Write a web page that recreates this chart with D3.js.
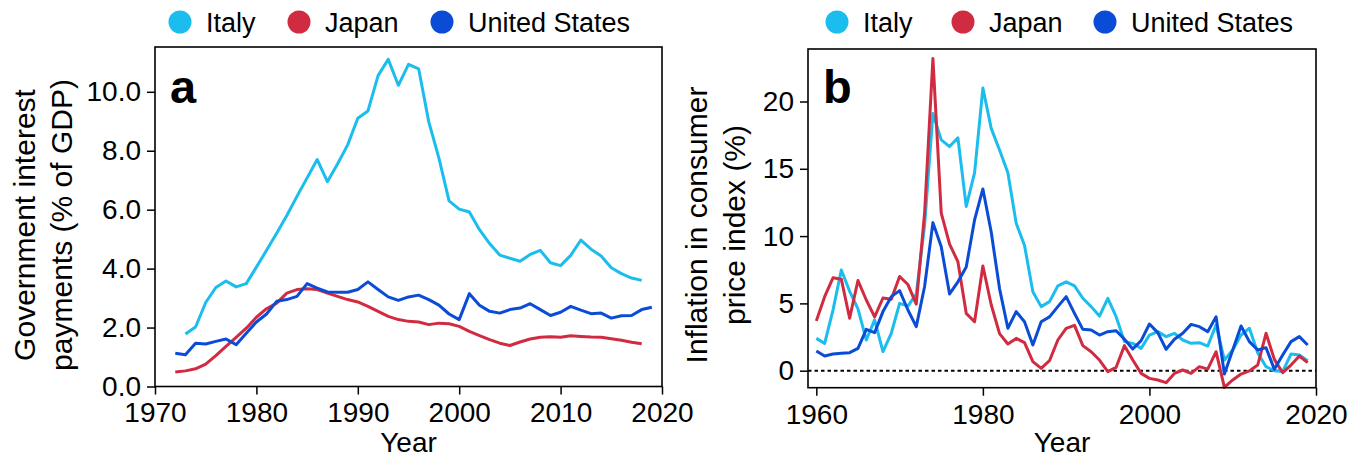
<!DOCTYPE html>
<html>
<head>
<meta charset="utf-8">
<script src="https://cdn.jsdelivr.net/npm/d3@7"></script>
<style>
body { margin: 0; background: #fff; }
text { font-family: "Liberation Sans", Arial, Helvetica, sans-serif; fill: #000; }
</style>
</head>
<body>
<svg width="1350" height="460"></svg>
<script>
// series names + colours
var countries = ["Italy", "Japan", "United States"];
var colors = ["#1bbdee", "#d02b40", "#0b4cd6"];

// panel a : government interest payments (% of GDP)
var debtStartItaly = 1973, debtStartJapan = 1972, debtStartUS = 1972;
var debtItaly = [1.78, 2.02, 2.85, 3.36, 3.58, 3.38, 3.49, 4.05, 4.62, 5.2, 5.8, 6.45, 7.08, 7.7, 6.95,
  7.55, 8.2, 9.1, 9.35, 10.55, 11.1, 10.22, 10.93, 10.78, 8.98, 7.75, 6.3, 6.02, 5.92, 5.32, 4.85,
  4.46, 4.35, 4.25, 4.48, 4.62, 4.2, 4.1, 4.45, 4.97, 4.66, 4.43, 4.03, 3.83, 3.68, 3.6];
var debtJapan = [0.49, 0.53, 0.6, 0.76, 1.05, 1.36, 1.67, 1.98, 2.35, 2.64, 2.83, 3.17, 3.29, 3.32, 3.29,
  3.17, 3.06, 2.95, 2.87, 2.72, 2.55, 2.38, 2.27, 2.21, 2.19, 2.1, 2.15, 2.13, 2.04, 1.87, 1.73,
  1.59, 1.47, 1.39, 1.51, 1.61, 1.67, 1.69, 1.67, 1.72, 1.7, 1.68, 1.67, 1.62, 1.57, 1.5, 1.45];
var debtUS = [1.13, 1.08, 1.47, 1.44, 1.53, 1.61, 1.42, 1.81, 2.19, 2.46, 2.89, 2.95, 3.06, 3.49, 3.34,
  3.21, 3.2, 3.2, 3.29, 3.55, 3.29, 3.04, 2.92, 3.04, 3.1, 2.95, 2.76, 2.46, 2.27, 3.15, 2.76,
  2.55, 2.49, 2.61, 2.66, 2.81, 2.61, 2.41, 2.52, 2.72, 2.59, 2.47, 2.49, 2.32, 2.4, 2.41, 2.61, 2.69];
var debtXTicks = [1970, 1980, 1990, 2000, 2010, 2020];
var debtYTicks = [0, 2, 4, 6, 8, 10];

// panel b : CPI inflation (%), 1960-2019
var cpiStart = 1960;
var cpiItaly = [2.4, 2.03, 4.5, 7.48, 5.9, 4.6, 2.28, 3.77, 1.41, 2.78, 5.0, 4.8, 5.7, 10.8, 19.1,
  17.15, 16.65, 17.3, 12.2, 14.7, 21.0, 18.0, 16.4, 14.7, 10.95, 9.3, 5.87, 4.76, 5.13, 6.3,
  6.6, 6.3, 5.38, 4.76, 4.06, 5.38, 4.01, 2.16, 2.03, 1.66, 2.65, 2.9, 2.53, 2.78, 2.28,
  2.03, 2.08, 1.83, 3.4, 0.79, 1.54, 2.65, 3.15, 1.34, 0.3, 0.0, -0.07, 1.24, 1.16, 0.74];
var cpiJapan = [3.7, 5.5, 6.9, 6.8, 3.9, 6.7, 5.25, 4.0, 5.4, 5.3, 7.0, 6.4, 4.95, 11.7, 23.2,
  11.7, 9.4, 8.1, 4.26, 3.64, 7.78, 4.9, 2.75, 1.98, 2.4, 2.08, 0.67, 0.17, 0.74, 2.28,
  3.15, 3.37, 1.86, 1.41, 0.79, -0.07, 0.25, 1.86, 0.79, -0.2, -0.57, -0.69, -0.89, -0.2, 0.05,
  -0.2, 0.3, 0.12, 1.41, -1.24, -0.69, -0.25, -0.02, 0.42, 2.78, 0.84, -0.15, 0.42, 1.09, 0.6];
var cpiUS = [1.46, 1.09, 1.24, 1.29, 1.34, 1.66, 3.07, 2.83, 4.39, 5.5, 5.95, 4.51, 3.27, 6.25, 11.0,
  9.2, 5.7, 6.6, 7.7, 11.2, 13.5, 10.3, 6.1, 3.15, 4.39, 3.64, 1.91, 3.64, 4.0, 4.76,
  5.5, 4.26, 3.07, 3.02, 2.65, 2.9, 2.97, 2.33, 1.61, 2.23, 3.47, 2.83, 1.59, 2.33, 2.78,
  3.44, 3.27, 2.9, 4.01, -0.25, 1.54, 3.32, 2.16, 1.54, 1.71, 0.1, 1.16, 2.16, 2.53, 1.91];
var cpiXTicks = [1960, 1980, 2000, 2020];
var cpiYTicks = [0, 5, 10, 15, 20];

var svg = d3.select("svg");

function toPoints(start, vals) {
  return vals.map(function(v, i) { return { year: start + i, value: v }; });
}

var makepanel = function(p) {
  var x = d3.scaleLinear().domain(p.xDomain).range([p.left, p.right]);
  var y = d3.scaleLinear().domain(p.yDomain).range([p.bottom, p.top]);
  var g = svg.append("g");

  // zero line (only for inflation)
  if (p.zeroLine) {
    g.append("line")
      .attr("x1", p.left).attr("x2", p.right)
      .attr("y1", y(0)).attr("y2", y(0))
      .attr("stroke", "#000").attr("stroke-width", 2)
      .attr("stroke-dasharray", "3.5,3");
  }

  var line = d3.line()
    .x(function(d) { return x(d.year); })
    .y(function(d) { return y(d.value); });

  p.series.forEach(function(s, i) {
    g.append("path")
      .datum(s)
      .attr("fill", "none")
      .attr("stroke", colors[i])
      .attr("stroke-width", 3)
      .attr("stroke-linejoin", "round")
      .attr("d", line);
  });

  // frame
  g.append("rect")
    .attr("x", p.left).attr("y", p.top)
    .attr("width", p.right - p.left).attr("height", p.bottom - p.top)
    .attr("fill", "none").attr("stroke", "#000").attr("stroke-width", 1.6);

  var xa = g.append("g")
    .attr("transform", "translate(0," + p.bottom + ")")
    .call(d3.axisBottom(x).tickValues(p.xTicks).tickFormat(d3.format("d")).tickSize(8).tickPadding(8).tickSizeOuter(0));
  var ya = g.append("g")
    .attr("transform", "translate(" + p.left + ",0)")
    .call(d3.axisLeft(y).tickValues(p.yTicks).tickFormat(d3.format(p.yFormat)).tickSize(8).tickPadding(6).tickSizeOuter(0));
  [xa, ya].forEach(function(a) {
    a.select(".domain").remove();
    a.selectAll("line").attr("stroke", "#000").attr("stroke-width", 1.5);
    a.selectAll("text").attr("font-size", 28).attr("fill", "#000")
      .style("font-family", '"Liberation Sans", Arial, sans-serif');
  });

  g.append("text")
    .attr("x", (p.left + p.right) / 2).attr("y", 452)
    .attr("text-anchor", "middle").attr("font-size", 28)
    .text("Year");

  p.yLabel.forEach(function(t, i) {
    g.append("text")
      .attr("transform", "translate(" + p.yLabelX[i] + ",225) rotate(-90)")
      .attr("text-anchor", "middle").attr("font-size", 30)
      .text(t);
  });

  g.append("text")
    .attr("x", p.left + 15).attr("y", 103)
    .attr("font-size", 47).attr("font-weight", "bold")
    .text(p.letter);

  // legend
  countries.forEach(function(c, i) {
    g.append("circle")
      .attr("cx", p.legendX[i]).attr("cy", 22).attr("r", 11.5)
      .attr("fill", colors[i]);
    g.append("text")
      .attr("x", p.legendX[i] + 26).attr("y", 32)
      .attr("font-size", 27)
      .text(c);
  });
};

makepanel({
  left: 155, right: 662, top: 47, bottom: 386.5,
  xDomain: [1970, 2020], yDomain: [0, 11.52],
  xTicks: debtXTicks, yTicks: debtYTicks, yFormat: ".1f",
  series: [toPoints(debtStartItaly, debtItaly), toPoints(debtStartJapan, debtJapan), toPoints(debtStartUS, debtUS)],
  yLabel: ["Government interest", "payments (% of GDP)"], yLabelX: [35, 72],
  letter: "a", legendX: [180, 299, 442], zeroLine: false
});

makepanel({
  left: 808, right: 1316, top: 49, bottom: 387.7,
  xDomain: [1959, 2020], yDomain: [-1.264, 23.9],
  xTicks: cpiXTicks, yTicks: cpiYTicks, yFormat: "d",
  series: [toPoints(cpiStart, cpiItaly), toPoints(cpiStart, cpiJapan), toPoints(cpiStart, cpiUS)],
  yLabel: ["Inflation in consumer", "price index (%)"], yLabelX: [707, 745],
  letter: "b", legendX: [837, 963, 1105], zeroLine: true
});
</script>
</body>
</html>
